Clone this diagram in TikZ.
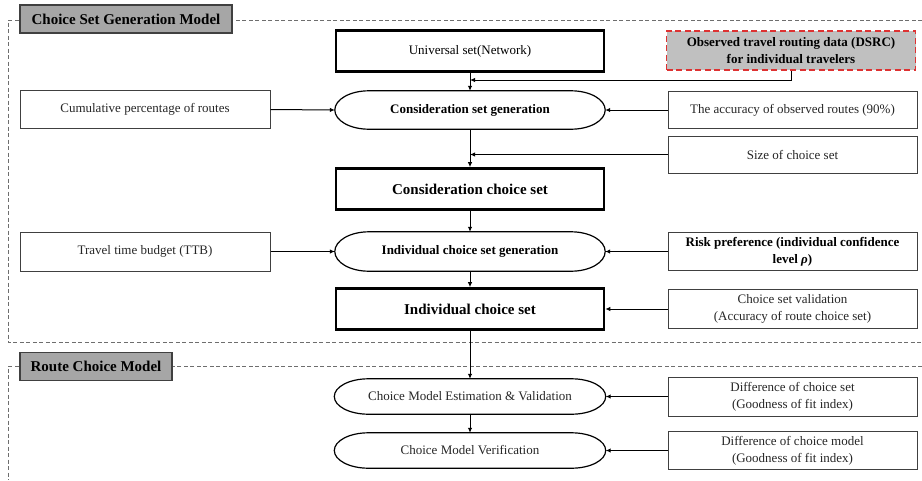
\documentclass[tikz,border=0pt]{standalone}
\usepackage{fontspec}
\setmainfont{Liberation Serif}
\usetikzlibrary{arrows.meta,calc}

\definecolor{titlegray}{RGB}{166,166,166}
\definecolor{datagray}{RGB}{192,192,192}
\definecolor{dashred}{RGB}{222,50,50}
\definecolor{framegray}{RGB}{110,110,110}

\newcommand\txtsmall{\fontsize{13}{17}\selectfont}
\newcommand\txtbig{\fontsize{15}{18}\selectfont}

% stadium outline with elliptical ends around a rectangle node
\newcommand\drawstadium[2][34pt]{%
  \path let \p1=($(#2.north)-(#2.south)$), \n1={0.5*veclen(\x1,\y1)} in
    [stadiumline]
    ([xshift=#1]#2.north west) -- ([xshift=-#1]#2.north east)
    arc[start angle=90,end angle=-90,x radius=#1,y radius=\n1]
    -- ([xshift=#1]#2.south west)
    arc[start angle=270,end angle=90,x radius=#1,y radius=\n1] -- cycle;}

\tikzset{
  mainbox/.style={draw, line width=2.6pt, minimum width=268, minimum height=41,
    inner sep=0pt, font=\txtbig\bfseries},
  sidebox/.style={draw=black!75, line width=1pt, minimum width=249, minimum height=38,
    inner sep=0pt, align=center, font=\txtsmall, text=black!85},
  stadiumnode/.style={minimum width=270, minimum height=38, inner sep=0pt,
    font=\txtsmall},
  stadiumline/.style={draw, line width=1.2pt},
  titlebox/.style={draw=black!75, line width=1.2pt, fill=titlegray, minimum height=28,
    inner sep=0pt, font=\txtbig\bfseries},
  frame/.style={draw=framegray, line width=0.9pt, dash pattern=on 4pt off 2.5pt},
  flow/.style={line width=1pt, -{Latex[length=5pt,width=4.5pt]}},
}

\begin{document}
\begin{tikzpicture}[x=1pt,y=-1pt]
\useasboundingbox (0,0) rectangle (922,480);

% dashed frames of the two model stages
\draw[frame] (922,20) -- (8,20) -- (8,342) -- (922,342);
\draw[frame] (922,366) -- (8,366) -- (8,480);

\node[titlebox, minimum width=212] (title1) at (126,19) {Choice Set Generation Model};
\node[titlebox, minimum width=152] (title2) at (96,366.5) {Route Choice Model};

% central column
\node[mainbox, font=\txtsmall] (univ) at (470,51) {Universal set(Network)};
\node[stadiumnode, font=\txtsmall\bfseries] (consgen) at (470,110) {Consideration set generation};
\node[mainbox] (consset) at (470,189) {Consideration choice set};
\node[stadiumnode, font=\txtsmall\bfseries, minimum height=39] (indgen) at (470,251.5) {Individual choice set generation};
\node[mainbox] (indset) at (470,309) {Individual choice set};
\node[stadiumnode, minimum width=271, minimum height=35, text=black!85] (est) at (470,396.5) {Choice Model Estimation \& Validation};
\node[stadiumnode, minimum width=271, minimum height=35, text=black!85] (ver) at (470,450.5) {Choice Model Verification};

\drawstadium{consgen}
\drawstadium{indgen}
\drawstadium{est}
\drawstadium{ver}

% inputs on the left
\node[sidebox, minimum width=250] (cumul) at (145,109.5) {Cumulative percentage of routes};
\node[sidebox, minimum width=250, minimum height=39] (travel) at (145,251.5) {Travel time budget (TTB)};

% inputs on the right
\node[sidebox, draw=dashred, line width=1.6pt, dash pattern=on 6pt off 3.5pt,
      fill=datagray, minimum height=39, font=\txtsmall\bfseries, text=black]
      (obs) at (791,50.5) {Observed travel routing data (DSRC)\\for individual travelers};
\node[sidebox, minimum height=37] (acc) at (792.5,110) {The accuracy of observed routes (90\%)};
\node[sidebox, minimum height=37] (size) at (792.5,154.5) {Size of choice set};
\node[sidebox, font=\txtsmall\bfseries, text=black] (risk) at (792.5,251.5)
      {Risk preference (individual confidence\\level {\itshape ρ})};
\node[sidebox, minimum height=39] (valid) at (792.5,309) {Choice set validation\\(Accuracy of route choice set)};
\node[sidebox, minimum height=39] (diff1) at (792.5,396.5) {Difference of choice set\\(Goodness of fit index)};
\node[sidebox] (diff2) at (792.5,450.5) {Difference of choice model\\(Goodness of fit index)};

% joins on the central line
\coordinate (j1) at (470,80);
\coordinate (j2) at (470,154.5);

% main flow
\draw[flow] (univ.south) -- (consgen.north);
\draw[flow] (consgen.south) -- (consset.north);
\draw[flow] (consset.south) -- (indgen.north);
\draw[flow] (indgen.south) -- (indset.north);
\draw[flow] (indset.south) -- (est.north);
\draw[flow] (est.south) -- (ver.north);

% side inputs
\draw[flow] (obs.south) |- (j1);
\draw[flow] (size.west) -- (j2);
\draw[flow] (cumul.east) -- (consgen.west);
\draw[flow] (acc.west) -- (consgen.east);
\draw[flow] (travel.east) -- (indgen.west);
\draw[flow] (risk.west) -- (indgen.east);
\draw[flow] (valid.west) -- (indset.east);
\draw[flow] (diff1.west) -- (est.east);
\draw[flow] (diff2.west) -- (ver.east);
\end{tikzpicture}
\end{document}
